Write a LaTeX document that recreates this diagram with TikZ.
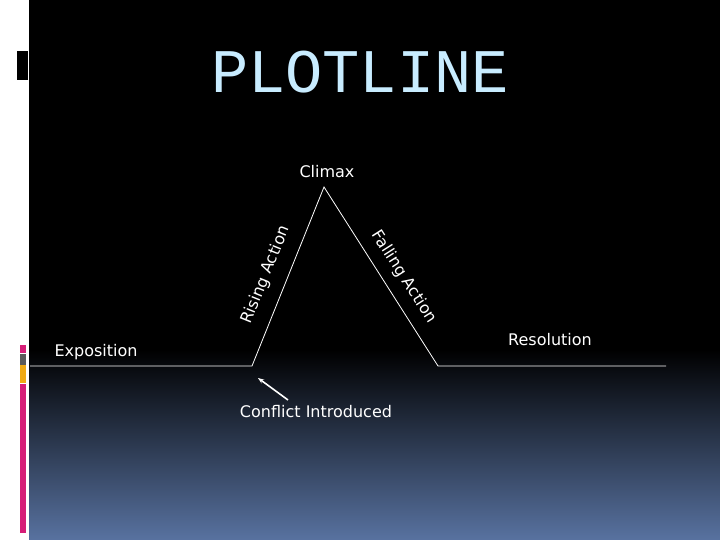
\documentclass[tikz,border=0pt]{standalone}
\usepackage{fontspec}
\usetikzlibrary{arrows.meta}
\setmainfont{DejaVu Sans}
\newfontfamily\titlefont{Liberation Mono}
\definecolor{bgblue}{RGB}{88,114,160}
\definecolor{barpink}{RGB}{214,30,120}
\definecolor{bargray}{RGB}{90,90,90}
\definecolor{barorange}{RGB}{240,170,20}
\definecolor{titleblue}{RGB}{200,236,255}
\begin{document}
\begin{tikzpicture}[x=1pt,y=-1pt,
  lbl/.style={text=white,font=\fontsize{16}{18}\selectfont,inner sep=0pt},
  plot/.style={draw=white,line width=0.8pt}]
\useasboundingbox (0,0) rectangle (720,540);
\fill[white] (0,0) rectangle (720,540);
\fill[black] (29,0) rectangle (720,350);
\shade[top color=black,bottom color=bgblue] (29,349.5) rectangle (720,540);
\fill[black] (17,51) rectangle (28,80);
\fill[barpink] (20,345) rectangle (26,353);
\fill[bargray] (20,354) rectangle (26,365);
\fill[barorange] (20,365) rectangle (26,383);
\fill[barpink] (20,384) rectangle (26,533);
\node[text=titleblue,font=\titlefont\fontsize{62}{62}\selectfont,inner sep=0pt] (title) at (360,72) {PLOTLINE};
\coordinate (s) at (30,366);
\coordinate (b1) at (252,366);
\coordinate (ap) at (324,187);
\coordinate (b2) at (438,366);
\coordinate (e) at (666,366);
\draw[plot] (s) -- (b1) -- (ap) -- (b2) -- (e);
\node[lbl] (climax) at (327,172) {Climax};
\node[lbl] (expo) at (96,352) {Exposition};
\node[lbl] (reso) at (550,340) {Resolution};
\node[lbl] (conf) at (316,412) {Conflict Introduced};
\node[lbl,rotate=68] (rise) at (266,275) {Rising Action};
\node[lbl,rotate=-57.5] (fall) at (404,277) {Falling Action};
\coordinate (at) at (288,400);
\coordinate (ah) at (258,378);
\draw[white,line width=1.6pt,-{Stealth[length=6pt]}] (at) -- (ah);
\end{tikzpicture}
\end{document}
